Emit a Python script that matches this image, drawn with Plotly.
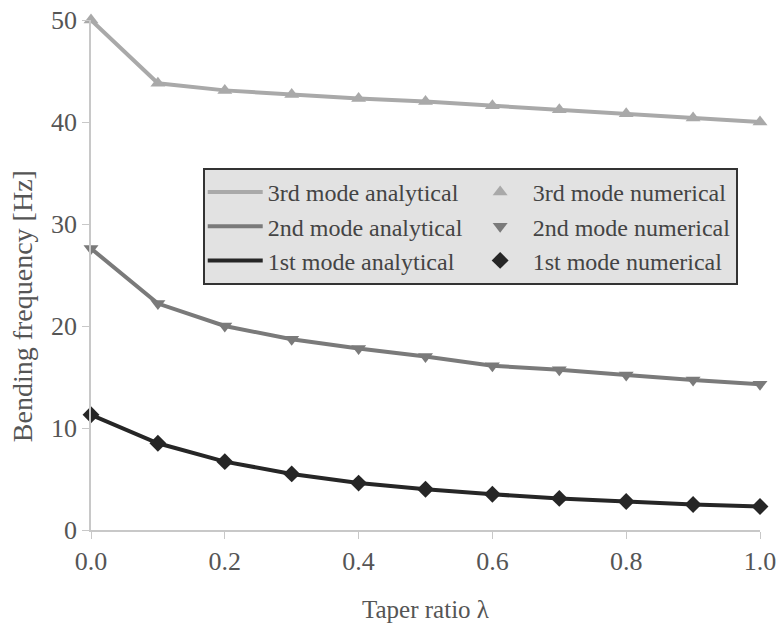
import plotly.graph_objects as go

taper = [0.0, 0.1, 0.2, 0.3, 0.4, 0.5, 0.6, 0.7, 0.8, 0.9, 1.0]
mode3 = [50.0, 43.8, 43.1, 42.7, 42.3, 42.0, 41.6, 41.2, 40.8, 40.4, 40.0]
mode2 = [27.6, 22.2, 20.0, 18.7, 17.8, 17.0, 16.1, 15.7, 15.2, 14.7, 14.3]
mode1 = [11.3, 8.5, 6.7, 5.5, 4.6, 4.0, 3.5, 3.1, 2.8, 2.5, 2.3]

c3, c2, c1 = "#a9a9a9", "#7a7a7a", "#262626"
txt = "#555555"
font = "Liberation Serif, Times New Roman, serif"

fig = go.Figure()
series = [
    ("3rd", mode3, c3, "triangle-up"),
    ("2nd", mode2, c2, "triangle-down"),
    ("1st", mode1, c1, "diamond"),
]
for name, ys, col, sym in series:
    fig.add_trace(go.Scatter(x=taper, y=ys, mode="lines", line=dict(color=col, width=4),
                             name=f"{name} mode analytical", legendgroup="analytical",
                             cliponaxis=False))
for name, ys, col, sym in series:
    fig.add_trace(go.Scatter(x=taper, y=ys, mode="markers",
                             marker=dict(color=col, symbol=sym, size=13),
                             name=f"{name} mode numerical", legendgroup="numerical",
                             cliponaxis=False))

axis_common = dict(showline=True, linecolor="#c8c8c8", linewidth=1.5, ticks="outside",
                   tickcolor="#c8c8c8", ticklen=7, showgrid=False, zeroline=False,
                   automargin=False,
                   tickfont=dict(family=font, size=26, color=txt),
                   title_font=dict(family=font, size=25, color=txt))

fig.update_layout(
    width=778, height=624,
    margin=dict(l=91, r=18, t=20, b=94),
    plot_bgcolor="white", paper_bgcolor="white",
    xaxis=dict(range=[0, 1], tickvals=[0, 0.2, 0.4, 0.6, 0.8, 1.0], tickformat=".1f",
               title=dict(text="Taper ratio λ", standoff=26), **axis_common),
    yaxis=dict(range=[0, 50], tickvals=[0, 10, 20, 30, 40, 50], **axis_common),
    legend=dict(orientation="h", x=0.167, y=0.71, xanchor="left", yanchor="top",
                traceorder="grouped", tracegroupgap=24, itemwidth=55,
                bgcolor="#e2e2e2", bordercolor="#333333", borderwidth=2,
                font=dict(family=font, size=24, color="#444444")),
    showlegend=True,
    annotations=[dict(text="Bending frequency [Hz]", textangle=-90, xref="paper", yref="paper",
                      x=-0.103, y=0.439, xanchor="center", yanchor="middle", showarrow=False,
                      font=dict(family=font, size=28, color=txt))],
)

fig.write_html("out.html", config={"displayModeBar": False},
               post_script="document.body.style.margin='0';")
